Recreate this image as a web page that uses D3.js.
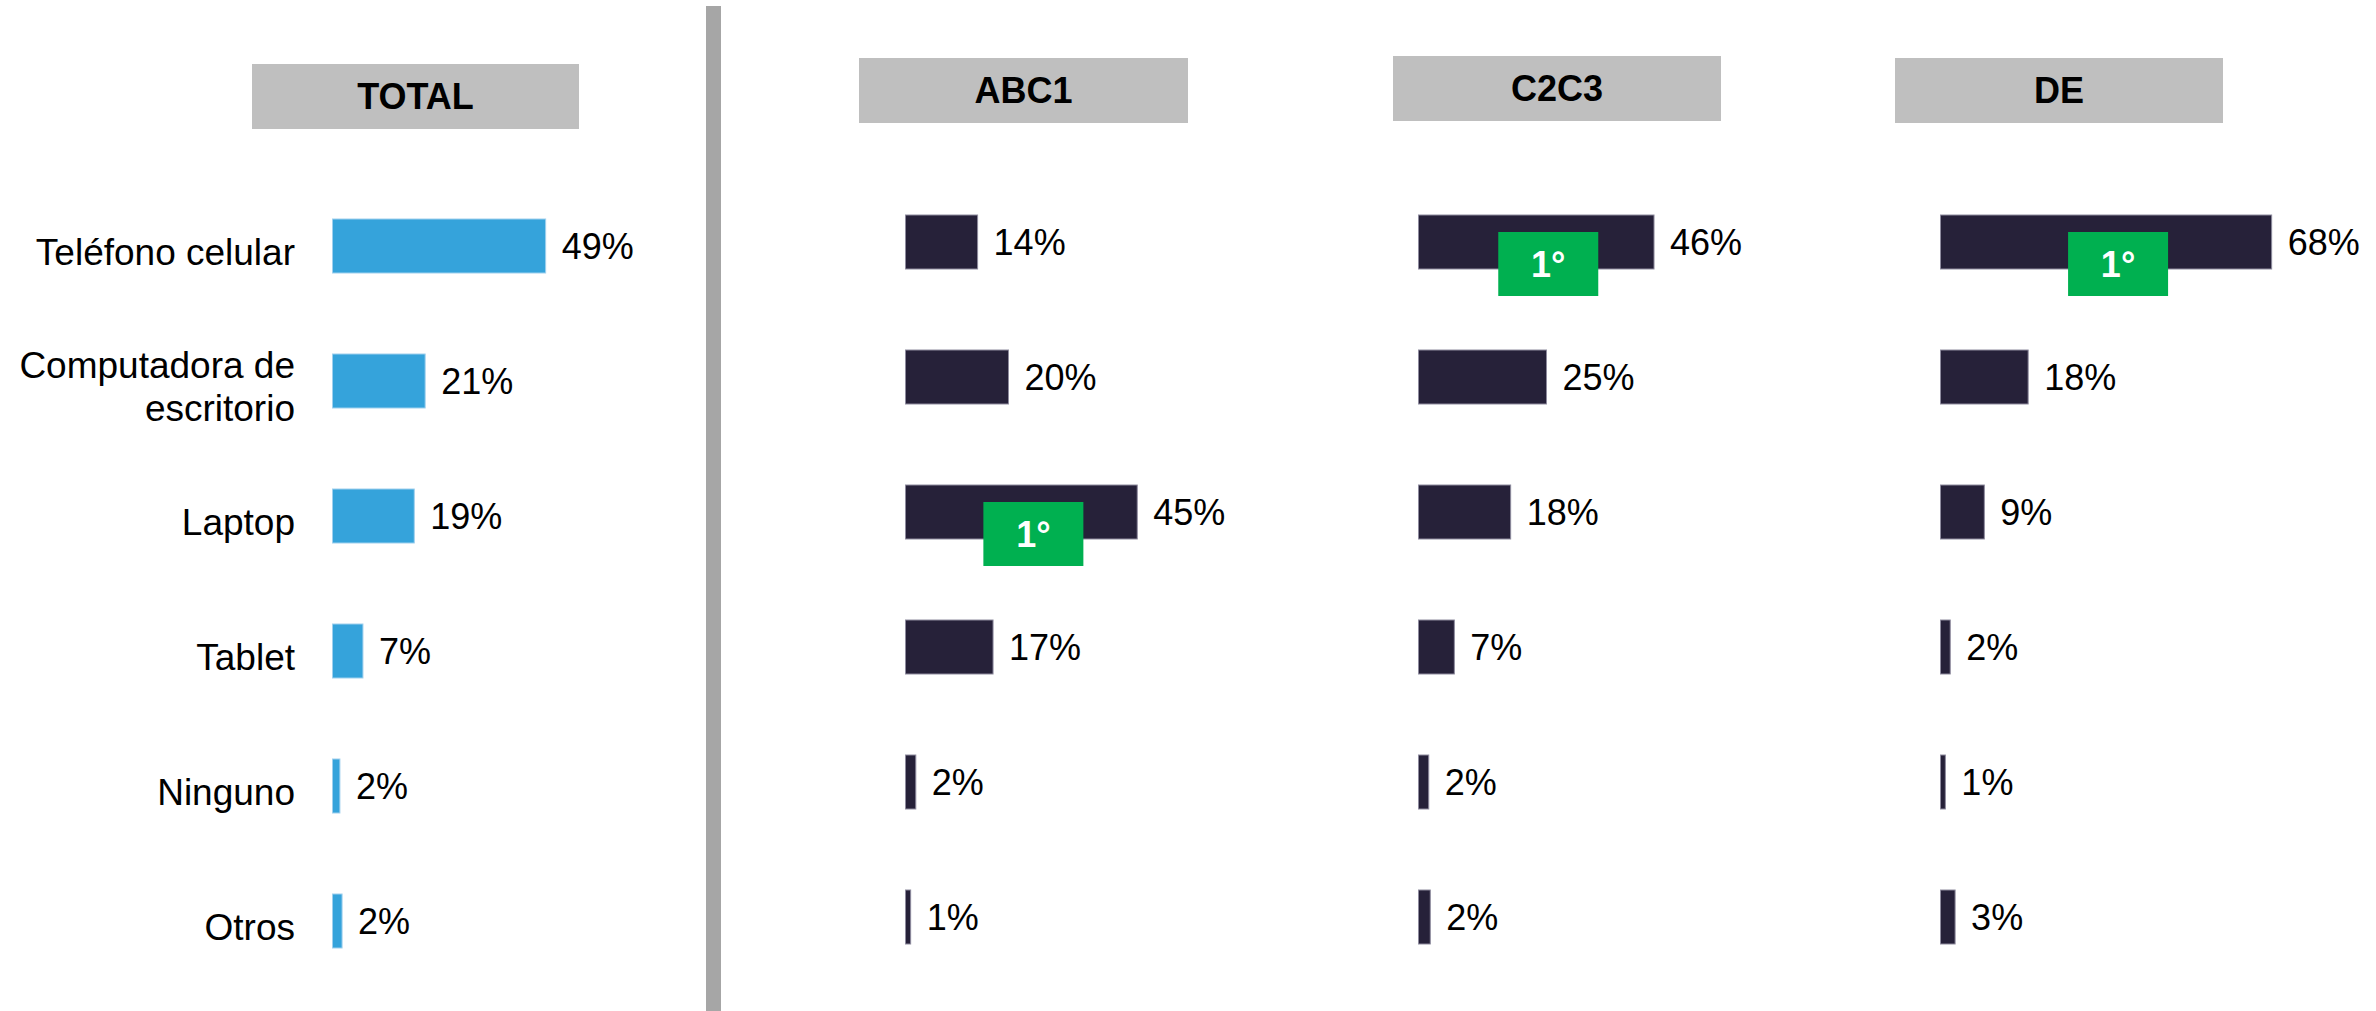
<!DOCTYPE html>
<html>
<head>
<meta charset="utf-8">
<script src="https://cdn.jsdelivr.net/npm/d3@7"></script>
<style>
  html, body { margin: 0; padding: 0; background: #fff; }
  svg { display: block; font-family: "Liberation Sans", Arial, sans-serif; }
</style>
</head>
<body>
<div id="target"></div>
<script>
// data
const categories = ['Teléfono celular', 'Computadora de\nescritorio', 'Laptop', 'Tablet', 'Ninguno', 'Otros']
const panels = ['TOTAL', 'ABC1', 'C2C3', 'DE']
const totalValues = [49, 21.3, 18.8, 7, 1.7, 2.2]
const abc1Values = [14, 20, 45, 17, 2, 1]
const c2c3Values = [46, 25, 18, 7, 2, 2.3]
const deValues = [68, 18, 9, 2, 1, 3]
const seriesValues = [totalValues, abc1Values, c2c3Values, deValues]
const rankLabel = '1°'

const width = 2376
const height = 1011

const colors = {
    header: '#bfbfbf',
    separator: '#a6a6a6',
    total: '#35a3db',
    totalEdge: '#9fd0ee',
    segment: '#262139',
    segmentEdge: '#8e8b9e',
    badge: '#00b050',
    text: '#000000'
}

// layout for each panel (header box, bar origin, px width of 100%)
const layout = [
    { hx: 252, hy: 64, hw: 327, x0: 332.5, top: 219, full: 435, fill: colors.total, edge: colors.totalEdge },
    { hx: 859, hy: 58, hw: 329, x0: 905.5, top: 215, full: 515, fill: colors.segment, edge: colors.segmentEdge },
    { hx: 1393, hy: 56, hw: 328, x0: 1418.5, top: 215, full: 512, fill: colors.segment, edge: colors.segmentEdge },
    { hx: 1895, hy: 58, hw: 328, x0: 1940.5, top: 215, full: 487, fill: colors.segment, edge: colors.segmentEdge }
]
const headerH = 65
const labelSize = 37
const valueSize = 36
const headerSize = 36
const rowStep = 135
const barH = 54

const fmt = d => d3.format('.0f')(d) + '%'

const svg = d3.select('#target').append('svg')
    .attr('width', width)
    .attr('height', height)

svg.append('rect')
    .attr('width', width)
    .attr('height', height)
    .attr('fill', '#fff')

// vertical separator
svg.append('rect')
    .attr('x', 706)
    .attr('y', 6)
    .attr('width', 15)
    .attr('height', height - 6)
    .attr('fill', colors.separator)

panels.forEach((name, i) => {
    const L = layout[i]
    const values = seriesValues[i]
    const rows = categories.map((c, k) => ({ cat: c, value: values[k] }))

    const x = d3.scaleLinear()
        .domain([0, 100])
        .range([L.x0, L.x0 + L.full])

    const y = d3.scaleBand()
        .domain(categories)
        .range([L.top, L.top + rowStep * (categories.length - 0.6)])
        .paddingInner(1 - barH / rowStep)
        .paddingOuter(0)

    const g = svg.append('g').attr('class', 'panel')

    // header
    g.append('rect')
        .attr('x', L.hx)
        .attr('y', L.hy)
        .attr('width', L.hw)
        .attr('height', headerH)
        .attr('fill', colors.header)

    g.append('text')
        .attr('x', L.hx + L.hw / 2)
        .attr('y', L.hy + headerH / 2)
        .attr('dy', '0.36em')
        .attr('text-anchor', 'middle')
        .attr('font-size', headerSize)
        .attr('font-weight', 'bold')
        .attr('fill', colors.text)
        .text(name)

    // bars
    g.selectAll('rect.bar')
        .data(rows)
        .enter()
        .append('rect')
        .attr('class', 'bar')
        .attr('x', x(0))
        .attr('y', d => y(d.cat))
        .attr('width', d => x(d.value) - x(0))
        .attr('height', y.bandwidth())
        .attr('fill', L.fill)
        .attr('stroke', L.edge)
        .attr('stroke-width', 1)

    // value labels
    g.selectAll('text.value')
        .data(rows)
        .enter()
        .append('text')
        .attr('class', 'value')
        .attr('x', d => x(d.value) + 16)
        .attr('y', d => y(d.cat) + y.bandwidth() / 2)
        .attr('dy', '0.35em')
        .attr('font-size', valueSize)
        .attr('fill', colors.text)
        .text(d => fmt(d.value))

    // category labels only on the total panel
    if (i === 0) {
        const labels = g.selectAll('text.cat')
            .data(rows)
            .enter()
            .append('text')
            .attr('class', 'cat')
            .attr('text-anchor', 'end')
            .attr('font-size', labelSize)
            .attr('fill', colors.text)
            .attr('y', d => y(d.cat) + y.bandwidth() / 2 + 6)

        labels.each(function(d) {
            const lines = d.cat.split('\n')
            const lh = 43
            d3.select(this).selectAll('tspan')
                .data(lines)
                .enter()
                .append('tspan')
                .attr('x', 295)
                .attr('dy', (t, j) => j === 0 ? (0.35 * labelSize - (lines.length - 1) * lh / 2) : lh)
                .text(t => t)
        })
    } else {
        // green rank badge on the leading bar
        const top = rows[d3.maxIndex(rows, d => d.value)]
        const bw = 100, bh = 64
        const cx = (x(0) + x(top.value)) / 2 + 12
        const by = y(top.cat) + 17

        g.append('rect')
            .attr('x', cx - bw / 2)
            .attr('y', by)
            .attr('width', bw)
            .attr('height', bh)
            .attr('fill', colors.badge)

        g.append('text')
            .attr('x', cx)
            .attr('y', by + bh / 2)
            .attr('dy', '0.36em')
            .attr('text-anchor', 'middle')
            .attr('font-size', headerSize)
            .attr('font-weight', 'bold')
            .attr('fill', '#fff')
            .text(rankLabel)
    }
})
</script>
</body>
</html>
